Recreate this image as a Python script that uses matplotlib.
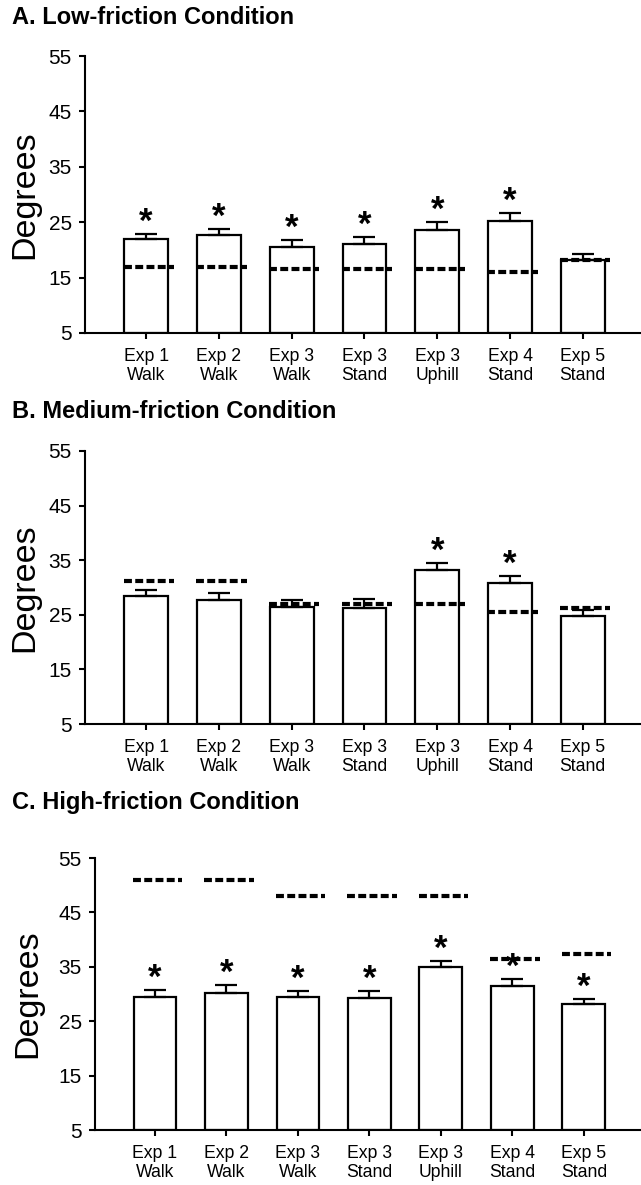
import numpy as np
import matplotlib
matplotlib.use("Agg")
import matplotlib.pyplot as plt

plt.rcParams["font.family"] = ["Liberation Sans", "DejaVu Sans"]

categories = ["Exp 1\nWalk", "Exp 2\nWalk", "Exp 3\nWalk", "Exp 3\nStand",
              "Exp 3\nUphill", "Exp 4\nStand", "Exp 5\nStand"]
yticks = [5, 15, 25, 35, 45, 55]

# A. low friction
low_means = [21.9, 22.7, 20.6, 21.0, 23.6, 25.3, 18.2]
low_err = [0.9, 1.0, 1.2, 1.4, 1.4, 1.3, 1.0]
low_ref = [17.0, 17.0, 16.5, 16.5, 16.5, 16.1, 18.2]
low_sig = [1, 1, 1, 1, 1, 1, 0]

# B. medium friction
med_means = [28.4, 27.7, 26.5, 26.3, 33.2, 30.9, 24.8]
med_err = [1.2, 1.3, 1.2, 1.6, 1.3, 1.2, 1.0]
med_ref = [31.1, 31.1, 26.9, 26.9, 26.9, 25.6, 26.2]
med_sig = [0, 0, 0, 0, 1, 1, 0]

# C. high friction
high_means = [29.5, 30.2, 29.4, 29.2, 34.9, 31.4, 28.1]
high_err = [1.3, 1.4, 1.1, 1.4, 1.1, 1.4, 1.0]
high_ref = [50.9, 50.9, 48.1, 48.1, 48.1, 36.5, 37.3]
high_sig = [1, 1, 1, 1, 1, 1, 1]

panels = [
    ("A. Low-friction Condition", low_means, low_err, low_ref, low_sig),
    ("B. Medium-friction Condition", med_means, med_err, med_ref, med_sig),
    ("C. High-friction Condition", high_means, high_err, high_ref, high_sig),
]

W, H = 641, 1185
fig = plt.figure(figsize=(W / 100, H / 100), dpi=100)

# axes boxes in pixels: left, top, bottom
boxes = [(85, 56, 333), (85, 451, 724), (95, 858, 1130)]
title_y = [18, 412, 803]
label_x = [-0.08, -0.08, -0.095]

x = np.arange(len(categories))

for (title, means, err, ref, sig), (left, top, bottom), ty, lx in zip(panels, boxes, title_y, label_x):
    ax = fig.add_axes([left / W, 1 - bottom / H, (W - left) / W, (bottom - top) / H])
    means = np.array(means)
    base = yticks[0]
    ax.bar(x, means - base, bottom=base, width=0.6, color="white",
           edgecolor="black", linewidth=1.6, zorder=2)
    ax.errorbar(x, means, yerr=[np.zeros_like(err), err], fmt="none",
                ecolor="black", elinewidth=1.6, capsize=8, capthick=1.6, zorder=3)
    for i, r in enumerate(ref):
        ax.hlines(r, i - 0.31, i + 0.38, colors="black", linewidth=3,
                  linestyles=(0, (1.9, 0.8)), capstyle="butt", zorder=4)
    for i, s in enumerate(sig):
        if s:
            ax.annotate("*", (x[i], means[i] + err[i]), xytext=(0, 1.5),
                        textcoords="offset points", ha="center", va="baseline",
                        fontsize=25, fontweight="bold", zorder=5)

    ax.set_xlim(-0.84, 6.8)
    ax.set_ylim(5, 55)
    ax.set_yticks(yticks)
    ax.set_xticks(x)
    ax.set_xticklabels(categories, fontsize=12.7, linespacing=1.15)
    ax.tick_params(axis="y", labelsize=15, length=4.5, width=1.5, pad=5)
    ax.tick_params(axis="x", length=4.5, width=1.5, pad=6)
    for side in ["top", "right"]:
        ax.spines[side].set_visible(False)
    for side in ["left", "bottom"]:
        ax.spines[side].set_linewidth(1.5)
    ax.set_ylabel("Degrees", fontsize=24.5)
    ax.yaxis.set_label_coords(lx, 0.5)

    fig.text(12 / W, 1 - ty / H, title, fontsize=17, fontweight="bold",
             ha="left", va="center")

fig.savefig("out.png", dpi=100)
